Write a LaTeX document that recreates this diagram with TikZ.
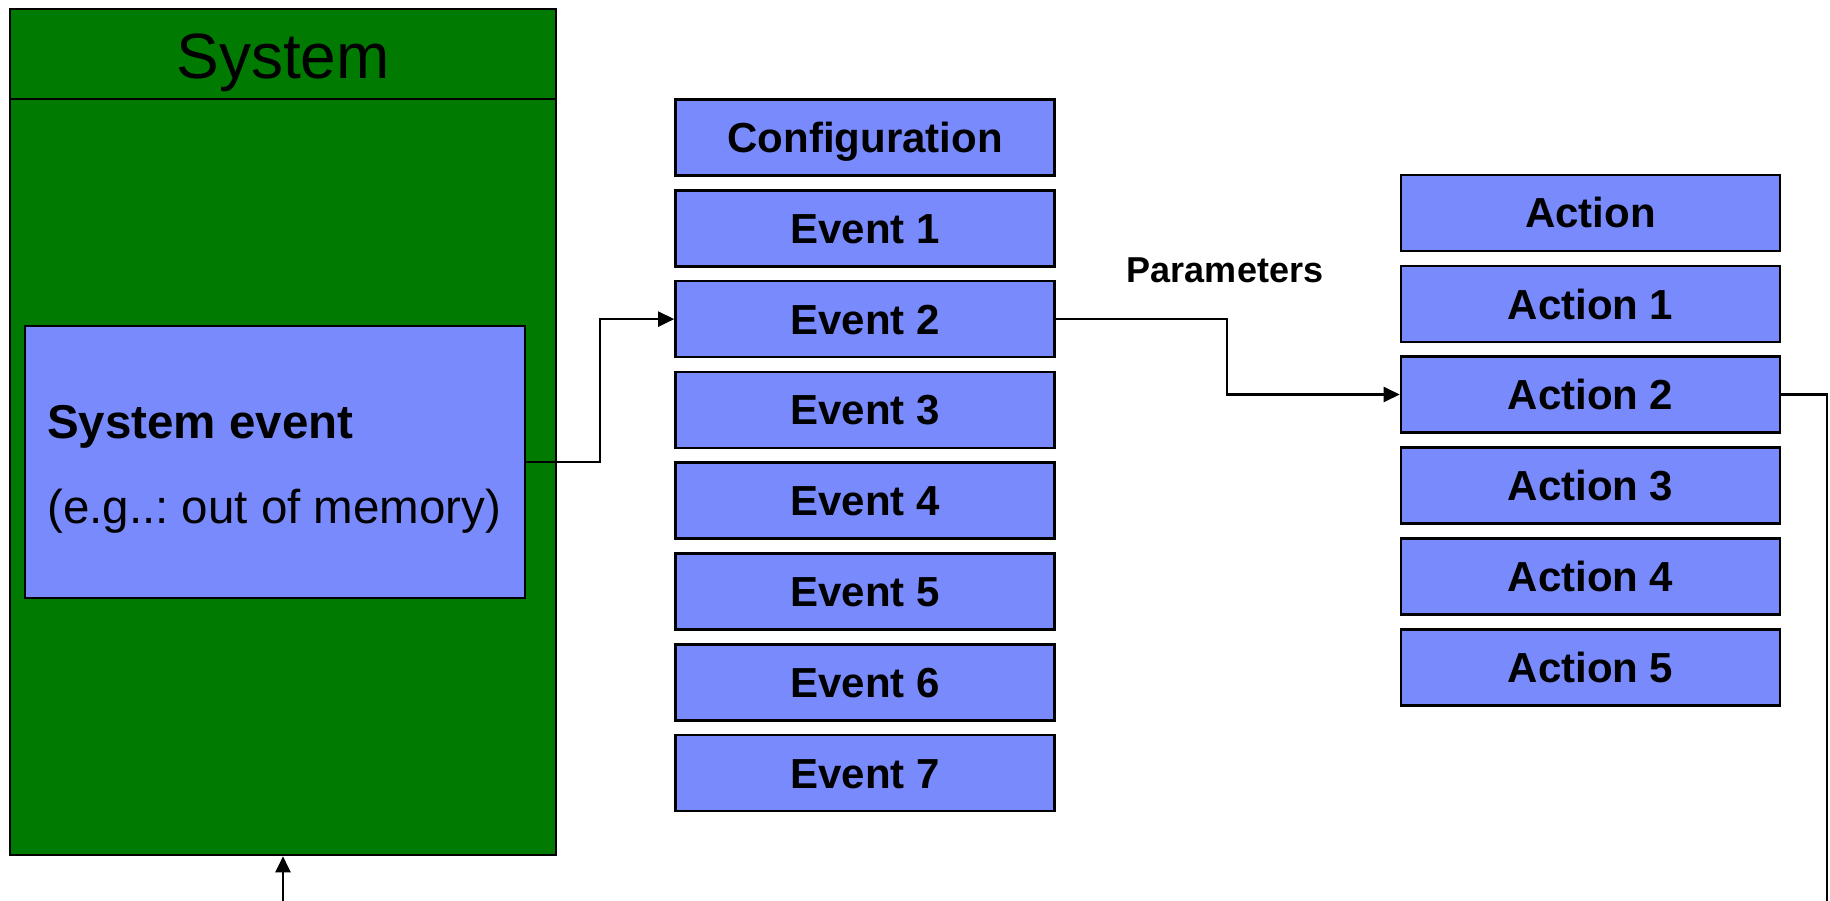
\documentclass[tikz,border=0pt]{standalone}
\usepackage{fontspec}
\setmainfont{Liberation Sans}
\usetikzlibrary{arrows.meta}
\definecolor{sysgreen}{RGB}{0,122,0}
\definecolor{boxblue}{RGB}{120,138,252}
\frenchspacing
\begin{document}
\begin{tikzpicture}[x=1pt,y=-1pt,
  frame/.style={draw=black,line width=2.6pt},
  bluebox/.style={frame,fill=boxblue,rectangle,inner sep=0pt,
    minimum width=379pt,minimum height=76pt,
    font=\fontsize{42}{50}\selectfont\bfseries,
    text height=30pt,text depth=0pt},
  link/.style={draw=black,line width=2.2pt},
  tip/.style={-{Triangle[length=16pt,width=15pt]}}]
\useasboundingbox (0,0) rectangle (1830,901);
% System container
\node[frame,fill=sysgreen,rectangle,inner sep=0pt,minimum width=546pt,minimum height=846pt] (sys) at (283,432) {};
\coordinate (hl) at (10,99);
\coordinate (hr) at (556,99);
\draw[frame] (hl) -- (hr);
\node[anchor=base,inner sep=0pt,font=\fontsize{64}{70}\selectfont] (systitle) at (283,79) {System};
% System event
\node[frame,fill=boxblue,rectangle,inner sep=0pt,minimum width=500pt,minimum height=272pt] (se) at (275,462) {};
\node[anchor=base west,inner sep=0pt,font=\fontsize{47.5}{56}\selectfont\bfseries] (setitle) at (47,438) {System event};
\node[anchor=base west,inner sep=0pt,font=\fontsize{47.5}{56}\selectfont] (setext) at (47,523) {(e.g..: out of memory)};
% Events
\node[bluebox] (cfg) at (865,137.5) {Configuration};
\node[bluebox] (e1) at (865,228.3) {Event 1};
\node[bluebox] (e2) at (865,319.1) {Event 2};
\node[bluebox] (e3) at (865,409.9) {Event 3};
\node[bluebox] (e4) at (865,500.7) {Event 4};
\node[bluebox] (e5) at (865,591.5) {Event 5};
\node[bluebox] (e6) at (865,682.3) {Event 6};
\node[bluebox] (e7) at (865,773.1) {Event 7};
% Actions
\node[bluebox] (act) at (1590.5,213) {Action};
\node[bluebox] (a1) at (1590.5,304) {Action 1};
\node[bluebox] (a2) at (1590.5,394.5) {Action 2};
\node[bluebox] (a3) at (1590.5,485.5) {Action 3};
\node[bluebox] (a4) at (1590.5,576.5) {Action 4};
\node[bluebox] (a5) at (1590.5,667.5) {Action 5};
% Parameters label
\node[anchor=base,inner sep=0pt,font=\fontsize{36}{42}\selectfont\bfseries] (params) at (1225,282) {Parameters};
% Connectors
\draw[link,tip] (se.east) -| (600,319.1) -- (e2.west);
\draw[link,tip] (e2.east) -| (1227,394.5) -- (a2.west);
\coordinate (outr) at (1827,901);
\draw[link] (a2.east) -| (outr);
\coordinate (inb) at (283,901);
\draw[link,tip] (inb) -- (sys.south -| inb);
\end{tikzpicture}
\end{document}
